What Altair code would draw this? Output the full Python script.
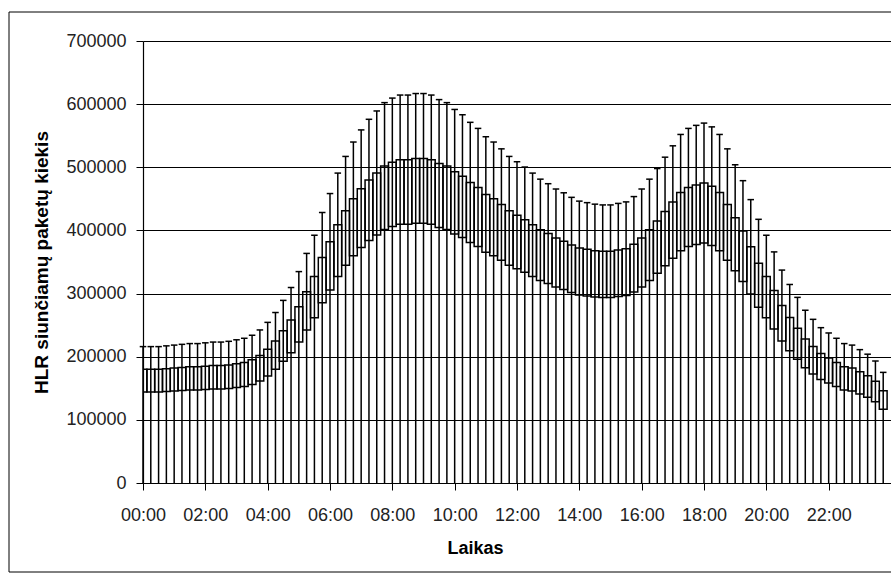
import altair as alt
import pandas as pd

# Mean HLR packets per 15-minute slot (thousands)
mean_k = [
    180, 180, 180, 181, 182, 183, 184, 184, 185, 186, 186, 187,
    189, 191, 195, 202, 212, 225, 241, 258, 279, 303, 327, 357,
    382, 409, 431, 450, 466, 480, 491, 502, 508, 512, 512, 514,
    514, 512, 506, 502, 493, 486, 476, 468, 457, 450, 441, 431,
    424, 417, 409, 401, 395, 388, 383, 377, 372, 370, 368, 367,
    367, 369, 371, 378, 388, 401, 415, 430, 445, 460, 468, 472,
    475, 470, 460, 441, 420, 399, 374, 348, 327, 305, 281, 262,
    245, 228, 216, 205, 198, 191, 184, 182, 176, 170, 161, 146,
]
ERR_PCT = 0.20  # percentage error bars (+/- 20 %)
y_ticks = [0, 100000, 200000, 300000, 400000, 500000, 600000, 700000]

slots = list(range(len(mean_k)))
times = [f"{i // 4:02d}:{(i % 4) * 15:02d}" for i in slots]

df = pd.DataFrame({"slot": slots, "time": times, "mean": [v * 1000 for v in mean_k]})
df["lower"] = df["mean"] * (1 - ERR_PCT)
df["upper"] = df["mean"] * (1 + ERR_PCT)
df["zero"] = 0
df["x0"] = df["slot"] - 0.5
df["x1"] = df["slot"] + 0.5
df["c0"] = df["slot"] - 0.42
df["c1"] = df["slot"] + 0.42

FONT = "Liberation Sans"
xs = alt.Scale(domain=[0, 96], nice=False, zero=False)
ys = alt.Scale(domain=[0, 700000], nice=False)

x_axis = alt.Axis(
    values=slots,
    labelExpr="datum.value % 8 == 0 ? (floor(datum.value/4) < 10 ? '0' : '') + floor(datum.value/4) + ':00' : ''",
    labelOverlap=False, labelFlush=False, labelBound=False,
    title="Laikas", titleX=332, titleY=65, titleBaseline="middle", titleAlign="center",
    grid=False, tickSize=7, tickColor="black", domainColor="black", domainWidth=1.2,
    labelPadding=16, labelFontSize=18, labelColor="#222", labelFont=FONT,
    titleFont=FONT, titleFontSize=18, titleFontWeight="bold", titleColor="black",
)
y_axis = alt.Axis(
    values=y_ticks, format="d", grid=True, gridColor="black", gridWidth=1,
    tickSize=7, tickColor="black", domainColor="black", domainWidth=1.2,
    labelPadding=10, labelFontSize=18, labelColor="#222", labelFont=FONT,
    title="HLR siunčiamų paketų kiekis", titleX=-102, titleY=221, titleAngle=270,
    titleAlign="center", titleBaseline="middle",
    titleFont=FONT, titleFontSize=19, titleFontWeight="bold", titleColor="black",
)

base = alt.Chart(df)

boxes = base.mark_rect(fillOpacity=0, stroke="black", strokeWidth=1.5, clip=True).encode(
    x=alt.X("x0:Q", scale=xs, axis=x_axis),
    x2="x1:Q",
    y=alt.Y("lower:Q", scale=ys, axis=y_axis),
    y2="mean:Q",
)
lines = base.mark_rule(color="black", strokeWidth=1.5).encode(
    x=alt.X("slot:Q", scale=xs),
    y=alt.Y("zero:Q", scale=ys),
    y2="upper:Q",
)
caps = base.mark_rule(color="black", strokeWidth=1.5).encode(
    x=alt.X("c0:Q", scale=xs),
    x2="c1:Q",
    y=alt.Y("upper:Q", scale=ys),
)
frame = alt.Chart(pd.DataFrame({"a": [0]})).mark_rect(
    fillOpacity=0, stroke="black", strokeWidth=1
).encode(
    x=alt.value(-134), x2=alt.value(770), y=alt.value(-29), y2=alt.value(531)
)

chart = alt.layer(boxes, lines, caps, frame).properties(
    width=748, height=442,
    autosize=alt.AutoSizeParams(type="none"),
    padding={"left": 143, "top": 41, "right": 0, "bottom": 93},
    background="white",
).configure_view(stroke=None)

chart.save("out.html", embed_options={"renderer": "svg", "actions": False})
